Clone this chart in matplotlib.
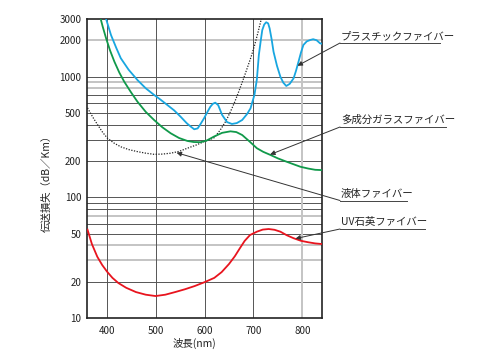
import numpy as np
import matplotlib
matplotlib.use("Agg")
import matplotlib.pyplot as plt

plt.rcParams['font.family'] = ['Noto Sans CJK JP', 'DejaVu Sans']

# ---- data ----
plastic_nm = [399, 409, 420, 429, 445, 463, 480, 497, 510, 524, 538, 551, 564, 572, 579,
              586, 592, 599, 606, 612, 617, 622, 628, 636, 646, 656, 666, 677, 687, 694,
              702, 707, 711, 715, 718, 722, 726, 730, 733, 737, 741, 748, 755, 761, 767,
              774, 782, 787, 792, 797, 802, 809, 816, 822, 829, 836, 840]
plastic_db = [3000, 2210, 1720, 1420, 1140, 937, 800, 705, 645, 582, 525, 466, 410, 385, 366,
              372, 405, 451, 510, 563, 595, 608, 580, 481, 420, 405, 412, 437, 490, 546,
              705, 950, 1510, 2000, 2430, 2700, 2820, 2760, 2510, 2050, 1607, 1230, 997, 890, 836,
              870, 968, 1120, 1328, 1580, 1828, 1960, 2010, 2040, 2000, 1888, 1870]

glass_nm = [388, 392, 399, 407, 416, 426, 436, 450, 463, 480, 497, 514, 531, 548, 565,
            578, 592, 605, 619, 636, 653, 665, 677, 692, 707, 720, 735, 750, 765, 780,
            796, 812, 826, 840]
glass_db = [3000, 2600, 2075, 1650, 1328, 1080, 908, 740, 620, 510, 437, 380, 339, 310, 293,
            287, 286, 296, 318, 342, 352, 347, 328, 290, 255, 238, 224, 210, 199, 189,
            179, 173, 169, 168]

liquid_nm = [361, 372, 382, 392, 402, 416, 429, 446, 463, 480, 497, 514, 531, 548, 565,
             582, 599, 610, 620, 632, 644, 653, 662, 671, 680, 688, 695, 702, 709, 716]
liquid_db = [550, 460, 397, 345, 308, 280, 262, 248, 239, 232, 227, 228, 232, 240, 255,
             270, 289, 300, 312, 360, 430, 512, 620, 770, 968, 1200, 1450, 1800, 2300, 3000]

uv_nm = [361, 370, 381, 391, 401, 412, 424, 440, 460, 480, 500, 520, 540, 560, 580,
         600, 620, 635, 650, 662, 672, 682, 693, 707, 719, 731, 743, 755, 768, 782,
         797, 812, 826, 840]
uv_db = [54, 41, 32.2, 27.5, 24.2, 21.5, 19.5, 17.8, 16.4, 15.6, 15.2, 15.6, 16.4, 17.3, 18.4,
         19.8, 21.5, 24.0, 28.0, 32.5, 37.7, 43.5, 48.7, 51.9, 54.0, 54.6, 53.8, 51.9, 48.5, 45.8,
         43.6, 42.4, 41.5, 41]

yticks = [10, 20, 50, 100, 200, 500, 1000, 2000, 3000]
xticks = [400, 500, 600, 700, 800]
grid_dark_y = [20, 50, 60, 80, 90, 100, 200, 300, 400, 500, 600, 700, 1000]
grid_gray_y = [30, 40, 70, 800, 900, 2000]
grid_dark_x = [400, 500, 600, 700]
grid_gray_x = [800]

labels = ['プラスチックファイバー', '多成分ガラスファイバー', '液体ファイバー', 'UV石英ファイバー']
arrow_tips = [(790, 1230), (734, 226), (543, 234), (786, 45.5)]

# ---- figure ----
fig = plt.figure(figsize=(4.78, 3.6), dpi=100)
ax = fig.add_axes([87/478, 1 - 318/360, (322 - 87)/478, (318 - 19)/360])

ax.set_yscale('log')
ax.set_xlim(360, 840)
ax.set_ylim(10, 3000)

for v in grid_dark_y:
    ax.axhline(v, color='#555555', lw=0.7, zorder=1)
for v in grid_gray_y:
    ax.axhline(v, color='#c4c4c4', lw=1.4, zorder=1)
for v in grid_dark_x:
    ax.axvline(v, color='#555555', lw=0.7, zorder=1)
for v in grid_gray_x:
    ax.axvline(v, color='#c4c4c4', lw=1.4, zorder=1)

ax.plot(liquid_nm, liquid_db, color='#222222', lw=0.9, ls=(0, (1, 1.2)), zorder=3, clip_on=True)
ax.plot(glass_nm, glass_db, color='#10994a', lw=1.3, zorder=3)
ax.plot(plastic_nm, plastic_db, color='#18a6e0', lw=1.3, zorder=3)
ax.plot(uv_nm, uv_db, color='#e8141e', lw=1.3, zorder=3)

ax.set_yticks(yticks)
ax.set_yticklabels([str(v) for v in yticks])
ax.yaxis.set_minor_locator(matplotlib.ticker.NullLocator())
ax.set_xticks(xticks)
ax.set_xticklabels([str(v) for v in xticks])
ax.tick_params(length=0, labelsize=7, colors='#222222')
ax.tick_params(axis='x', pad=6)
ax.tick_params(axis='y', pad=4)

for s in ax.spines.values():
    s.set_linewidth(1.2)
    s.set_color('#222222')

fig.text(194/478, 1 - 343/360, '波長(nm)', ha='center', va='center', fontsize=7.5, color='#222222')
fig.text(47/478, 1 - 181/360, '伝送損失（dB／Km）', rotation=90, ha='center', va='center',
         fontsize=7.5, color='#222222')

# ---- annotations: label, underline and arrow ----
label_y = [43, 127, 200.5, 229]
line_end = [440, 446, 407, 425]
for txt, ly, le, tip in zip(labels, label_y, line_end, arrow_tips):
    fy = 360 - ly
    fig.text(341/478, (fy + 2)/360, txt, ha='left', va='bottom', fontsize=7.5, color='#222222')
    fig.add_artist(plt.Line2D([340/478, le/478], [fy/360, fy/360], color='#444444', lw=0.7))
    ax.annotate('', xy=tip, xycoords='data', xytext=(340, fy), textcoords='figure pixels',
                arrowprops=dict(arrowstyle='-|>', color='#333333', lw=0.7,
                                mutation_scale=7, shrinkA=0, shrinkB=0),
                annotation_clip=False, zorder=5)

fig.savefig('out.png', dpi=100)
